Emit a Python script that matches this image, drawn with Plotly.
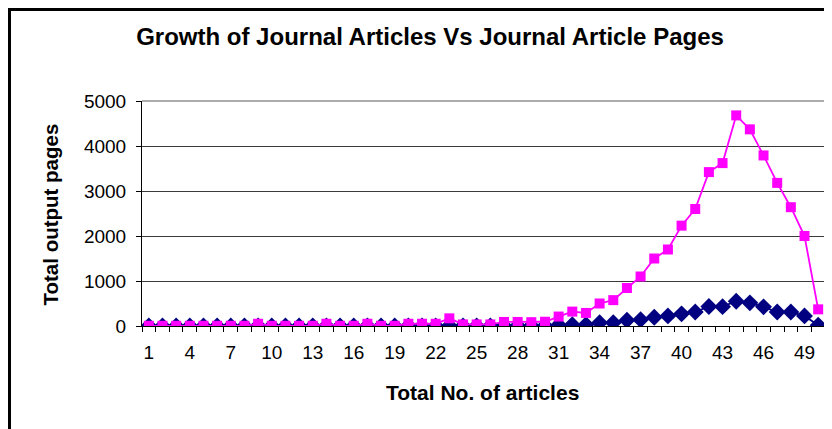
import plotly.graph_objects as go

articles = [1, 2, 3, 4, 5, 6, 7, 8, 9, 10, 11, 12, 13, 14, 15, 16, 17, 18, 19, 20,
            21, 22, 23, 24, 25, 26, 27, 28, 29, 30, 31, 32, 33, 34, 35, 36, 37, 38, 39, 40,
            41, 42, 43, 44, 45, 46, 47, 48, 49, 50]

no_of_articles = [2, 2, 2, 2, 2, 2, 2, 2, 3, 2, 2, 2, 2, 3, 2, 2, 3, 2, 2, 3,
                  3, 3, 5, 3, 3, 3, 4, 4, 4, 5, 22, 30, 30, 74, 74, 127, 140, 195, 224, 270,
                  310, 433, 430, 550, 515, 426, 310, 310, 224, 18]

pages = [5, 5, 5, 5, 5, 5, 5, 5, 50, 5, 5, 5, 5, 50, 5, 5, 50, 5, 5, 50,
         50, 50, 170, 35, 35, 35, 90, 90, 85, 95, 210, 320, 290, 500, 575, 845, 1100, 1500, 1700, 2230,
         2600, 3420, 3620, 4680, 4370, 3790, 3180, 2640, 2000, 370]

tick_labels = [1, 4, 7, 10, 13, 16, 19, 22, 25, 28, 31, 34, 37, 40, 43, 46, 49]

FONT = "Liberation Sans, Arial, sans-serif"

fig = go.Figure()
fig.add_trace(go.Scatter(
    x=articles, y=no_of_articles, mode="lines+markers", name="Articles",
    line=dict(color="#000080", width=1.8),
    marker=dict(symbol="diamond", size=13, color="#000080"),
))
fig.add_trace(go.Scatter(
    x=articles, y=pages, mode="lines+markers", name="Pages",
    line=dict(color="#FF00FF", width=1.8),
    marker=dict(symbol="square", size=10, color="#FF00FF"),
))

# the page body has an 8px margin; figure coordinates = reference pixels - 8
W, H = 824, 421
L, R, T, B = 134, 7, 93, 103
pw, ph = W - L - R, H - T - B


def px_x(x):
    return (x - L) / pw


def px_y(y):
    return (H - B - y) / ph


fig.update_layout(
    width=W, height=H,
    margin=dict(l=L, r=R, t=T, b=B),
    paper_bgcolor="white", plot_bgcolor="white",
    showlegend=False,
    font=dict(family=FONT, size=19, color="black"),
    title=dict(text="<b>Growth of Journal Articles Vs Journal Article Pages</b>",
               x=422 / W, xanchor="center", y=1 - 29 / H, yanchor="middle",
               yref="container", xref="container",
               font=dict(family=FONT, size=24, color="black")),
    xaxis=dict(
        range=[0.5, 50.5], tickmode="array", tickvals=tick_labels,
        ticktext=[str(t) for t in tick_labels],
        ticks="", showgrid=False, zeroline=False,
        showline=True, linecolor="black", linewidth=1,
        tickfont=dict(size=19), ticklabelstandoff=9,
        minor=dict(ticks="outside", tick0=0.5, dtick=1, ticklen=5,
                   tickcolor="black", tickwidth=1, showgrid=False),
    ),
    yaxis=dict(
        range=[0, 5000], tickmode="linear", tick0=0, dtick=1000,
        ticks="outside", ticklen=5, tickcolor="black",
        showgrid=True, gridcolor="#3a3a3a", gridwidth=1,
        zeroline=False, showline=True, linecolor="black", linewidth=1,
        tickfont=dict(size=19), ticklabelstandoff=6,
    ),
    annotations=[
        dict(text="<b>Total No. of articles</b>", xref="paper", yref="paper",
             x=px_x(474), y=px_y(384), xanchor="center", yanchor="middle",
             showarrow=False, font=dict(family=FONT, size=21, color="black")),
        dict(text="<b>Total output pages</b>", xref="paper", yref="paper",
             x=px_x(42), y=px_y(206.5), xanchor="center", yanchor="middle",
             textangle=-90, showarrow=False,
             font=dict(family=FONT, size=20.5, color="black")),
    ],
    shapes=[
        dict(type="line", xref="paper", yref="paper", x0=0, x1=1, y0=1, y1=1,
             line=dict(color="#909090", width=1.5)),
        dict(type="line", xref="paper", yref="paper", x0=1, x1=1, y0=0, y1=1,
             line=dict(color="#909090", width=1.5)),
        dict(type="rect", xref="paper", yref="paper",
             x0=px_x(1.5), x1=px_x(860), y0=px_y(1.5), y1=px_y(460),
             line=dict(color="black", width=3)),
    ],
)

fig.write_html("out.html")
